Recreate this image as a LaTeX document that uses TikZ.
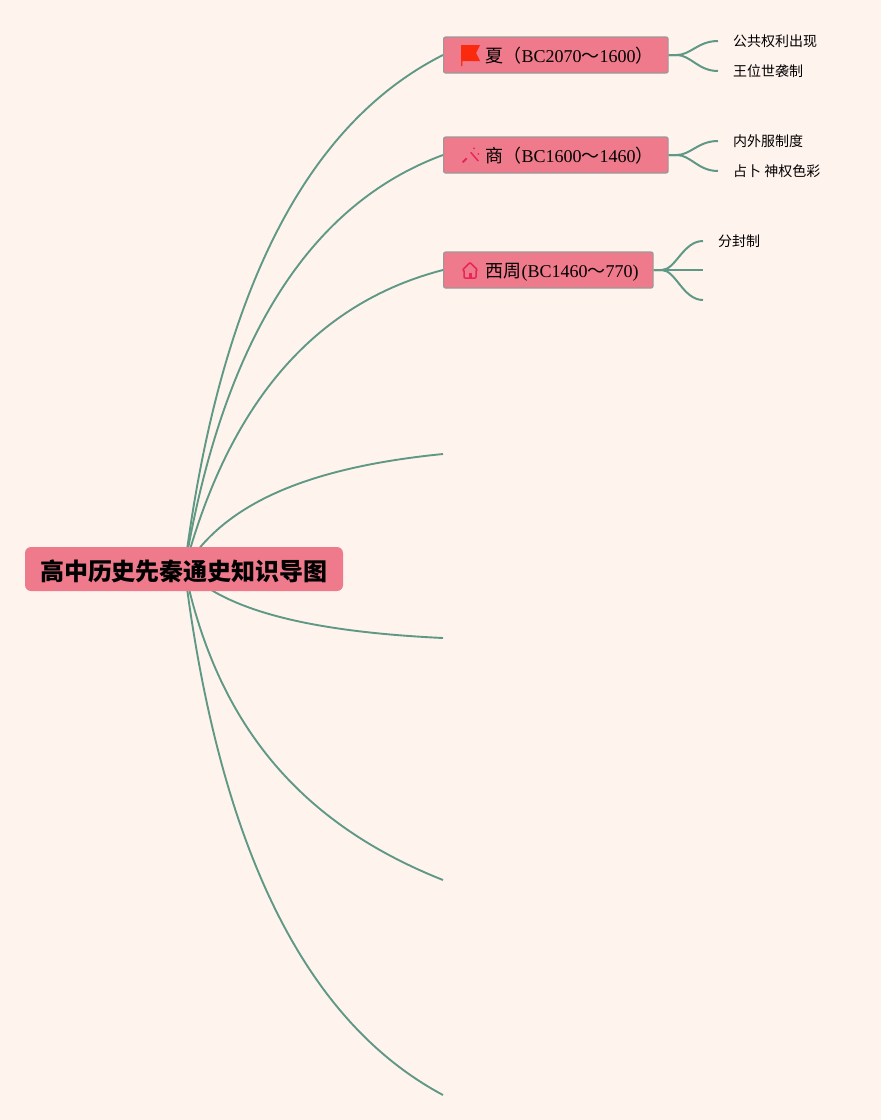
\documentclass[tikz,border=0pt]{standalone}
\usepackage{fontspec}
\setmainfont{Liberation Serif}
\newfontfamily\cjk{Noto Sans CJK SC}
\usetikzlibrary{backgrounds,calc}
\definecolor{paper}{HTML}{FFF3EE}
\definecolor{boxfill}{HTML}{EE7A8B}
\definecolor{boxline}{HTML}{999999}
\definecolor{branch}{HTML}{5F9985}
\definecolor{iconred}{HTML}{F92A0E}
\definecolor{iconpink}{HTML}{E8265A}
\tikzset{
    rootbox/.style={fill=boxfill,rounded corners=6pt,minimum height=44pt,inner xsep=15pt,inner ysep=0pt,
        text height=23pt,text depth=0pt,font=\cjk\bfseries\fontsize{24}{24}\selectfont},
    erabox/.style={fill=boxfill,draw=boxline,line width=1.2pt,rounded corners=2pt,minimum height=36pt,
        inner xsep=14.5pt,inner ysep=0pt,anchor=west,text height=15pt,text depth=0pt,font=\fontsize{18}{18}\selectfont},
    leaf/.style={anchor=west,inner xsep=15pt,inner ysep=0pt,font=\cjk\fontsize{14}{14}\selectfont},
    link/.style={draw=branch,line width=1.9pt},
    twig/.style={draw=branch,line width=2pt}
}
\begin{document}
\begin{tikzpicture}[x=1pt,y=-1pt]
    \useasboundingbox (0,0) rectangle (881,1120);

    % Root and eras
    \node[rootbox] (root) at (184,569) {高中历史先秦通史知识导图};
    \node[erabox] (xia) at (443,55) {\hspace{27.5pt}{\cjk 夏（}BC2070{\cjk ～}1600{\cjk ）}};
    \node[erabox] (shang) at (443,155) {\hspace{27.5pt}{\cjk 商（}BC1600{\cjk ～}1460{\cjk ）}};
    \node[erabox] (zhou) at (443,270) {\hspace{27.5pt}{\cjk 西周}(BC1460{\cjk ～}770)};

    % Leaves
    \node[leaf] (xiaA) at (718,41) {公共权利出现};
    \node[leaf] (xiaB) at (718,71) {王位世袭制};
    \node[leaf] (shangA) at (718,141) {内外服制度};
    \node[leaf] (shangB) at (718,171) {占卜 神权色彩};
    \node[leaf] (zhouA) at (703,241) {分封制};

    % Free ends
    \coordinate (hub) at (184.5,569);
    \coordinate (eraD) at (443,454);
    \coordinate (eraE) at (443,638);
    \coordinate (eraF) at (443,880);
    \coordinate (eraG) at (443,1095);
    \coordinate (zhouB) at (703,270);
    \coordinate (zhouC) at (703,300);

    \begin{pgfonlayer}{background}
        \fill[paper] (0,0) rectangle (881,1120);

        % Main branches
        \draw[link] (hub) .. controls (219,296) and (304.3,125) .. (xia.west);
        \draw[link] (hub) .. controls (222.3,343) and (307.7,205) .. (shang.west);
        \draw[link] (hub) .. controls (229,403) and (314.3,303.3) .. (zhou.west);
        \draw[link] (hub) .. controls (222.3,506.3) and (302,468) .. (eraD);
        \draw[link] (hub) .. controls (222.3,608.3) and (302.3,631.3) .. (eraE);
        \draw[link] (hub) .. controls (217.7,728.3) and (303.7,824.7) .. (eraF);
        \draw[link] (hub) .. controls (219,845.7) and (304.3,1021) .. (eraG);

        % Small branches
        \foreach \a/\b in {xia/xiaA,xia/xiaB,shang/shangA,shang/shangB,zhou/zhouA,zhou/zhouB,zhou/zhouC} {
            \draw[twig] (\a.east) -- ++(8,0) .. controls +(14,0) and ($(\b.west)+(-20,0)$) .. (\b.west);
        }
    \end{pgfonlayer}

    % Flag
    \fill[iconred] (461,45) -- (480,45) -- (476,53) -- (480,61) -- (462.3,61) -- (462.3,66) -- (461,66) -- cycle;

    % Wand
    \draw[iconpink,line width=1.5pt] (470.7,152.3) -- (478.3,161);
    \draw[iconpink,line width=2pt] (462.7,162.3) -- (466.7,158.3);
    \fill[iconpink] (474,148.3) circle (1pt);
    \fill[iconpink] (478.3,154) circle (1pt);

    % House
    \draw[iconpink,line width=1.5pt,line join=round,rounded corners=1pt] (464,278) -- (464,270) -- (462.5,270) -- (470,262.5) -- (477.5,270) -- (476,270) -- (476,278) -- cycle;
    \fill[iconpink] (469,278) -- (469,272.5) -- (472.3,272.5) -- (472.3,278) -- cycle;
\end{tikzpicture}
\end{document}
